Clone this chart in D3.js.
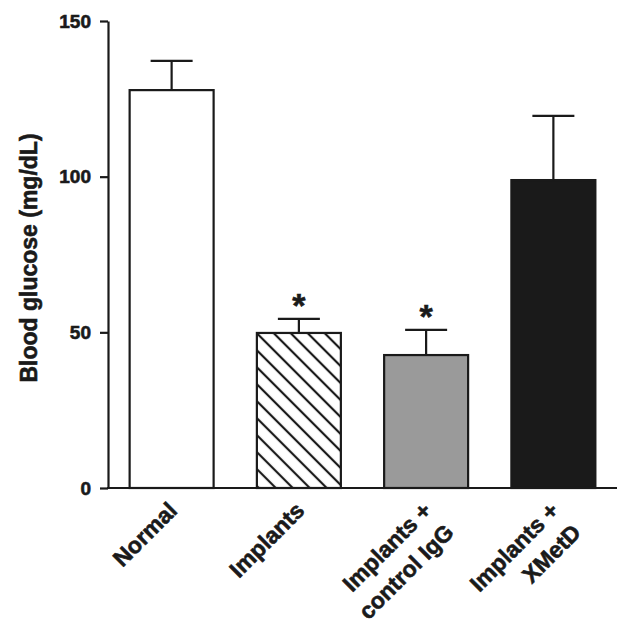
<!DOCTYPE html>
<html>
<head>
<meta charset="utf-8">
<script src="https://cdn.jsdelivr.net/npm/d3@7"></script>
<style>
  body { margin: 0; background: #fff; }
  svg text { font-family: "Liberation Sans", Arial, sans-serif; font-weight: bold; fill: #1a1a1a; }
  .heavy { stroke: #1a1a1a; stroke-width: 0.6px; }
</style>
</head>
<body>
<svg id="chart" width="633" height="633"></svg>
<script>
const groups = ['Normal', 'Implants', 'Implants + control IgG', 'Implants + XMetD'];
const labelLines = [['Normal'], ['Implants'], ['Implants +', 'control IgG'], ['Implants +', 'XMetD']];
const means = [127.8, 49.8, 42.7, 98.9];
const sems = [9.4, 4.5, 8.1, 20.6];
const significant = [false, true, true, false];
const yTicks = [0, 50, 100, 150];

const INK = '#1a1a1a';
const fills = ['#ffffff', 'url(#hatch)', '#9a9a9a', '#1a1a1a'];

const svg = d3.select('#chart');

// hatch for the second bar
const pat = svg.append('defs').append('pattern')
    .attr('id', 'hatch')
    .attr('patternUnits', 'userSpaceOnUse')
    .attr('width', 12)
    .attr('height', 12)
    .attr('patternTransform', 'rotate(-45)');
pat.append('rect').attr('width', 12).attr('height', 12).attr('fill', '#fff');
pat.append('line')
    .attr('x1', 6).attr('y1', 0).attr('x2', 6).attr('y2', 12)
    .attr('stroke', INK).attr('stroke-width', 2.2);

const x = d3.scaleBand()
    .domain(groups)
    .range([108, 617])
    .paddingInner(0.34)
    .paddingOuter(0.17);

const y = d3.scaleLinear()
    .domain([0, 150])
    .range([488, 21]);

// bars
svg.append('g')
    .selectAll('rect')
    .data(groups)
    .enter().append('rect')
    .attr('x', d => x(d))
    .attr('y', (d, i) => y(means[i]))
    .attr('width', x.bandwidth())
    .attr('height', (d, i) => y(0) - y(means[i]))
    .attr('fill', (d, i) => fills[i])
    .attr('stroke', INK)
    .attr('stroke-width', 2.2);

// error bars (upper only)
const capW = 42;
const err = svg.append('g').attr('stroke', INK).attr('stroke-width', 2.2);
groups.forEach((g, i) => {
    const cx = x(g) + x.bandwidth() / 2;
    err.append('line')
        .attr('x1', cx).attr('x2', cx)
        .attr('y1', y(means[i])).attr('y2', y(means[i] + sems[i]));
    err.append('line')
        .attr('x1', cx - capW / 2).attr('x2', cx + capW / 2)
        .attr('y1', y(means[i] + sems[i])).attr('y2', y(means[i] + sems[i]));
    if (significant[i]) {
        svg.append('text')
            .attr('class', 'heavy')
            .attr('x', cx)
            .attr('y', y(means[i] + sems[i]) - 2)
            .attr('text-anchor', 'middle')
            .attr('font-size', 34)
            .text('*');
    }
});

// y axis
const yAxis = svg.append('g')
    .attr('transform', 'translate(108,0)')
    .call(d3.axisLeft(y).tickValues(yTicks).tickSize(8).tickSizeOuter(0).tickPadding(9));
yAxis.select('.domain').attr('stroke', INK).attr('stroke-width', 2.2);
yAxis.selectAll('.tick line').attr('stroke', INK).attr('stroke-width', 2.2);
yAxis.selectAll('.tick text')
    .attr('class', 'heavy')
    .attr('font-size', 19)
    .attr('font-family', '"Liberation Sans", Arial, sans-serif')
    .attr('font-weight', 'bold')
    .attr('fill', INK);

// x axis line
svg.append('line')
    .attr('x1', 107).attr('x2', 617)
    .attr('y1', y(0)).attr('y2', y(0))
    .attr('stroke', INK).attr('stroke-width', 2.2);

// category labels, rotated
groups.forEach((g, i) => {
    const cx = x(g) + x.bandwidth() / 2;
    const t = svg.append('text')
        .attr('class', 'heavy')
        .attr('text-anchor', 'end')
        .attr('font-size', 23)
        .attr('transform', `translate(${cx + 7},512) rotate(-45)`);
    labelLines[i].forEach((line, k) => {
        t.append('tspan')
            .attr('x', 0)
            .attr('dy', k === 0 ? 0 : 31)
            .text(line);
    });
});

// y title
svg.append('text')
    .attr('class', 'heavy')
    .attr('transform', 'translate(37,258) rotate(-90)')
    .attr('text-anchor', 'middle')
    .attr('font-size', 23)
    .text('Blood glucose (mg/dL)');
</script>
</body>
</html>
